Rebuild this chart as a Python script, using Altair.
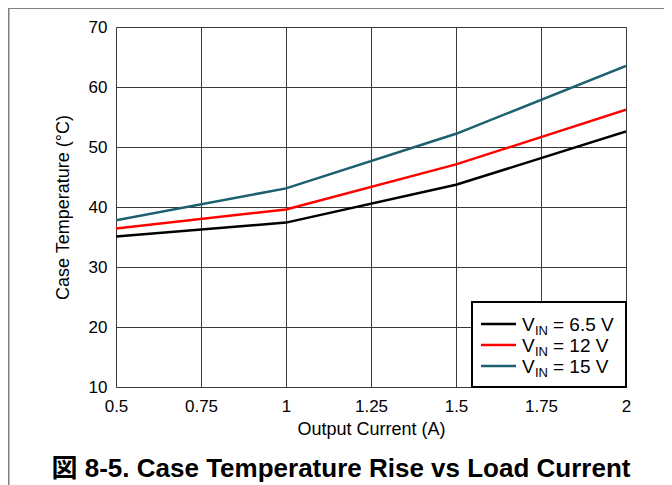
import altair as alt
import pandas as pd

# ---- data ----
currents = [0.5, 1.0, 1.5, 2.0]
series_names = ["6.5 V", "12 V", "15 V"]
temp_6v5 = [35.1, 37.4, 43.7, 52.6]
temp_12v = [36.4, 39.6, 47.1, 56.2]
temp_15v = [37.8, 43.1, 52.2, 63.5]
series_colors = ["#000000", "#ff0000", "#1c5f6e"]

x_ticks = [0.5, 0.75, 1.0, 1.25, 1.5, 1.75, 2.0]
y_ticks = [10, 20, 30, 40, 50, 60, 70]

x_title = "Output Current (A)"
y_title = "Case Temperature (°C)"
fig_title = "図 8-5. Case Temperature Rise vs Load Current"

rows = []
for name, vals in zip(series_names, [temp_6v5, temp_12v, temp_15v]):
    for c, t in zip(currents, vals):
        rows.append({"current": c, "temp": t, "series": name})
df = pd.DataFrame(rows)

FONT = "Liberation Sans"
W, H = 510, 360

lines = alt.Chart(df).mark_line(strokeWidth=2.5, clip=True).encode(
    x=alt.X("current:Q",
            scale=alt.Scale(domain=[0.5, 2.0], nice=False, zero=False),
            axis=alt.Axis(values=x_ticks, labelExpr="'' + datum.value", title=x_title,
                          grid=True, gridColor="#3a3a3a", gridWidth=1, gridOpacity=1,
                          ticks=False, domain=False,
                          labelFont=FONT, labelFontSize=17, labelColor="#000",
                          labelPadding=11, labelFlush=False,
                          titleFont=FONT, titleFontSize=18, titleFontWeight="normal",
                          titleColor="#000", titlePadding=6)),
    y=alt.Y("temp:Q",
            scale=alt.Scale(domain=[10, 70], nice=False, zero=False),
            axis=alt.Axis(values=y_ticks, title=y_title,
                          grid=True, gridColor="#3a3a3a", gridWidth=1, gridOpacity=1,
                          ticks=False, domain=False,
                          labelFont=FONT, labelFontSize=17, labelColor="#000",
                          labelPadding=9, labelFlush=False,
                          titleFont=FONT, titleFontSize=18, titleFontWeight="normal",
                          titleColor="#000", titlePadding=16)),
    color=alt.Color("series:N",
                    scale=alt.Scale(domain=series_names, range=series_colors),
                    legend=None),
    order="current:Q",
)

layers = [lines]

# ---- legend box with subscripted V_IN ----
legend_box = alt.Chart(pd.DataFrame({"a": [0]})).mark_rect(
    fill="white", stroke="black", strokeWidth=2
).encode(x=alt.value(356), x2=alt.value(W), y=alt.value(275), y2=alt.value(H))
layers.append(legend_box)

for i, (name, col) in enumerate(zip(series_names, series_colors)):
    yl = 297 + 21 * i
    one = pd.DataFrame({"a": [0]})
    layers.append(alt.Chart(one).mark_rule(stroke=col, strokeWidth=2.5).encode(
        x=alt.value(365), x2=alt.value(400), y=alt.value(yl)))
    layers.append(alt.Chart(one).mark_text(
        text="V", font=FONT, fontSize=19, align="left", baseline="alphabetic", color="#000"
    ).encode(x=alt.value(406), y=alt.value(yl + 7)))
    layers.append(alt.Chart(one).mark_text(
        text="IN", font=FONT, fontSize=13, align="left", baseline="alphabetic", color="#000"
    ).encode(x=alt.value(419), y=alt.value(yl + 11)))
    layers.append(alt.Chart(one).mark_text(
        text="= " + name, font=FONT, fontSize=19, align="left", baseline="alphabetic", color="#000"
    ).encode(x=alt.value(437), y=alt.value(yl + 7)))

# ---- figure caption ----
layers.append(alt.Chart(pd.DataFrame({"a": [0]})).mark_text(
    text=fig_title, font="Liberation Sans, Noto Sans CJK JP", fontSize=26,
    fontWeight="bold", align="center", baseline="alphabetic", color="#000"
).encode(x=alt.value(225), y=alt.value(450)))

# ---- page border lines ----
layers.append(alt.Chart(pd.DataFrame({"a": [0]})).mark_rule(
    stroke="#808080", strokeWidth=2).encode(
    x=alt.value(-108), x2=alt.value(560), y=alt.value(-19)))
layers.append(alt.Chart(pd.DataFrame({"a": [0]})).mark_rule(
    stroke="#808080", strokeWidth=2).encode(
    x=alt.value(-107.5), y=alt.value(-30), y2=alt.value(470)))

chart = alt.layer(*layers).properties(
    width=W, height=H,
    autosize=alt.AutoSizeParams(type="none"),
    padding={"left": 108, "top": 19, "right": 38, "bottom": 106},
).configure_view(
    stroke="black", strokeWidth=3
).configure(background="white")

chart.save("out.html", embed_options={"renderer": "svg", "actions": False})
